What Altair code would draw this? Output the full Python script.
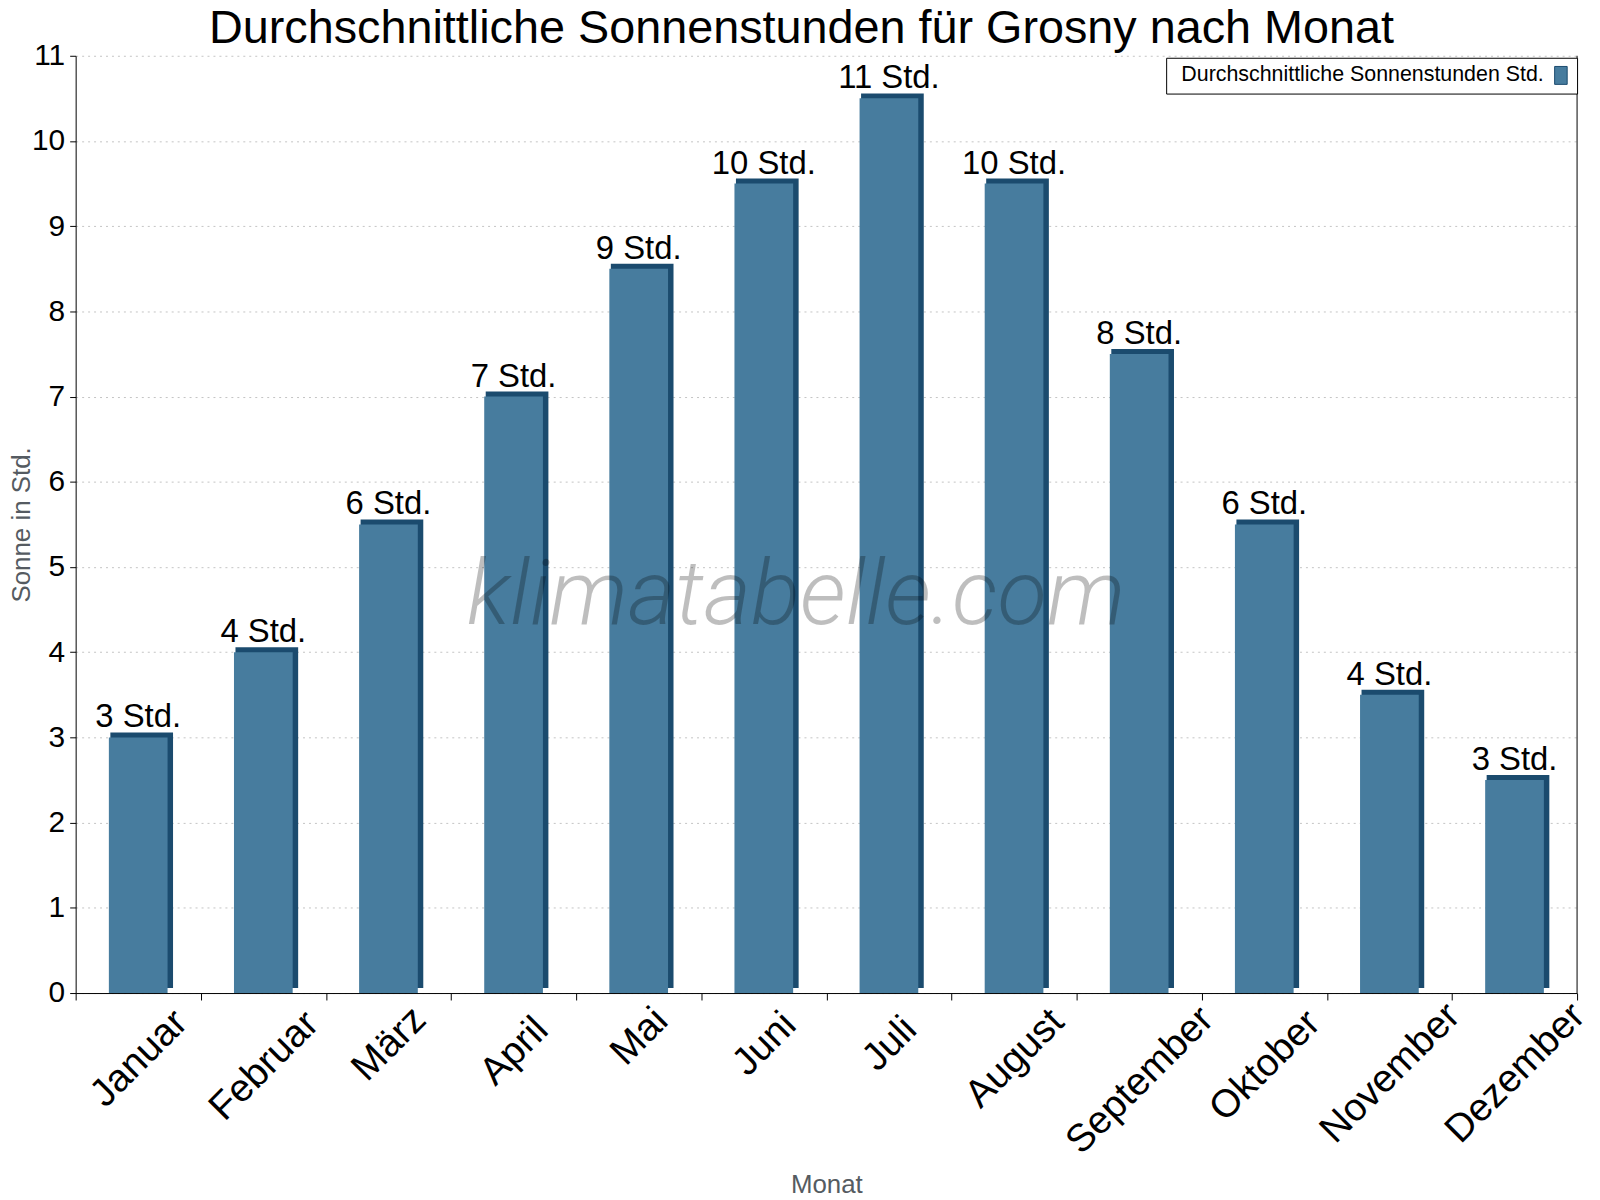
import altair as alt
import pandas as pd

months = ["Januar", "Februar", "März", "April", "Mai", "Juni", "Juli",
          "August", "September", "Oktober", "November", "Dezember"]
sun_hours = [3.0, 4.0, 5.5, 7.0, 8.5, 9.5, 10.5, 9.5, 7.5, 5.5, 3.5, 2.5]
bar_labels = ["3 Std.", "4 Std.", "6 Std.", "7 Std.", "9 Std.", "10 Std.",
              "11 Std.", "10 Std.", "8 Std.", "6 Std.", "4 Std.", "3 Std."]
y_ticks = list(range(0, 12))
series_name = "Durchschnittliche Sonnenstunden Std."
watermark = ["klimatabelle.com"]

FONT = "Liberation Sans"
FRONT = "#477C9E"
DARK = "#1B4B6E"
W, H = 1509, 942

df = pd.DataFrame({"Monat": months, "Sonne": sun_hours,
                   "Label": bar_labels, "Serie": series_name})
wm = pd.DataFrame({"t": watermark})

x_enc = alt.X(
    "Monat:N", sort=months,
    scale=alt.Scale(paddingInner=0, paddingOuter=0),
    axis=alt.Axis(
        title="Monat", labels=False, tickBand="extent", tickSize=7,
        tickColor="black", domainColor="black", grid=False,
        titleFont=FONT, titleFontSize=26, titleFontWeight="normal",
        titleColor="#555b61", titlePadding=172,
    ),
)
y_enc = alt.Y(
    "Sonne:Q",
    scale=alt.Scale(domain=[0, 11], nice=False),
    axis=alt.Axis(
        title="Sonne in Std.", values=y_ticks, format="d", labelFont=FONT,
        labelFontSize=30, labelColor="black", labelPadding=5,
        tickSize=6, tickColor="black", domainColor="black",
        grid=True, gridDash=[2, 4], gridColor="#c4c4c4",
        titleFont=FONT, titleFontSize=26, titleFontWeight="normal",
        titleColor="#555b61", titleX=-54, titleY=H / 2,
        titleBaseline="middle", titleAlign="center", titleAngle=270,
    ),
)

base = alt.Chart(df).encode(x=x_enc)

dark = base.mark_bar(color=DARK, size=63, xOffset=3.5, yOffset=-5,
                     y2Offset=-4).encode(y=y_enc)

front = base.mark_bar(size=59).encode(
    y=alt.Y("Sonne:Q"),
    color=alt.Color(
        "Serie:N", scale=alt.Scale(range=[FRONT]),
        legend=alt.Legend(
            title=None, orient="none", legendX=1096, legendY=2,
            labelFont=FONT, labelFontSize=21.5, labelColor="black",
            labelAlign="right", labelLimit=0,
            strokeColor="black", fillColor="white", padding=7,
            symbolType="M-0.7,-1H0.7V1H-0.7Z", symbolSize=324,
            symbolOffset=379, labelOffset=alt.ExprRef("-28"),
            symbolStrokeColor=DARK, symbolStrokeWidth=1,
        ),
    ),
)

value_labels = base.mark_text(
    font=FONT, fontSize=33, color="black", baseline="alphabetic", dy=-10
).encode(y=alt.Y("Sonne:Q"), text="Label:N")

# dx/dy are applied in the rotated frame: a pure downward shift D becomes
# dx = -D/sqrt(2), dy = D/sqrt(2)
shift = "(8 + 0.3536 * (20.7 * length(datum.Monat) + 39)) * 0.7071"
month_labels = base.mark_text(
    font=FONT, fontSize=39, color="black", angle=315, align="center",
    baseline="middle",
    dx=alt.ExprRef("0.5 - " + shift),
    dy=alt.ExprRef("0.5 + " + shift),
).encode(y=alt.value(H), text="Monat:N")

right_border = alt.Chart(wm).mark_rule(color="black", strokeWidth=1).encode(
    x=alt.value(W), y=alt.value(0), y2=alt.value(H)
)

wm_text = alt.Chart(wm).mark_text(
    font="Roboto", fontSize=91.5, fontStyle="italic", fontWeight=300,
    color="black", opacity=0.25, align="center", baseline="middle",
).encode(text="t:N", x=alt.value(724), y=alt.value(544))

chart = alt.layer(dark, front, value_labels, month_labels, right_border,
                  wm_text).properties(
    width=W, height=H,
    title=alt.TitleParams(
        "Durchschnittliche Sonnenstunden für Grosny nach Monat",
        font=FONT, fontSize=47, fontWeight="normal", color="black",
        anchor="middle", dx=-25, dy=18, offset=6,
    ),
    autosize=alt.AutoSizeParams(type="none"),
    padding={"left": 68, "top": 45, "right": 15, "bottom": 205},
    background="white",
).configure_view(stroke=None)

chart.save("out.html", embed_options={"renderer": "svg", "actions": False})
